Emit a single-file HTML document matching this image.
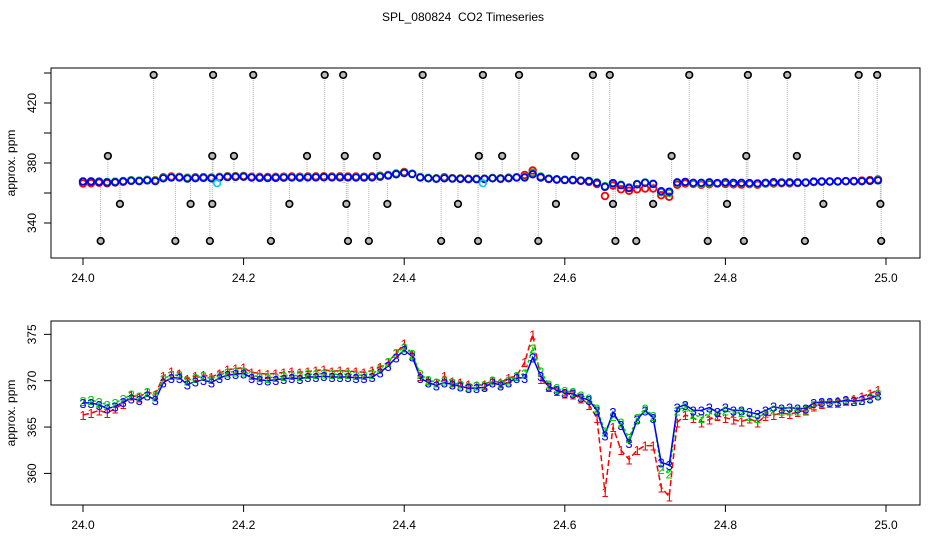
<!DOCTYPE html>
<html><head><meta charset="utf-8"><style>
html,body{margin:0;padding:0;background:#fff;}
svg{display:block;font-family:"Liberation Sans",sans-serif;}
</style></head><body>
<svg id="c" width="936" height="540" viewBox="0 0 936 540">
<text x="463" y="21" font-size="12" text-anchor="middle">SPL_080824&#160; CO2 Timeseries</text>
</svg>
<script>
const xTicks=[24.0,24.2,24.4,24.6,24.8,25.0];
const xTickLabels=["24.0","24.2","24.4","24.6","24.8","25.0"];
const topYTicks=[340,360,380,400,420,440];
const topYLabels=["340","","380","","420",""];
const botYTicks=[360,365,370,375];
const botYLabels=["360","365","370","375"];
const xStart=24.0, xStep=0.01;
const series1=[366.3,366.5,366.8,366.5,367.0,367.5,368.4,368.2,368.8,368.5,
370.5,371.0,370.8,370.2,370.5,370.6,370.4,370.8,371.2,371.3,
371.4,370.9,370.8,370.7,370.8,370.9,371.0,370.9,371.0,371.1,
371.2,371.0,371.1,371.0,371.0,370.9,371.1,371.5,372.0,373.0,
374.0,372.8,370.5,370.0,369.8,370.5,369.9,369.8,369.6,369.5,
369.6,370.0,369.8,370.3,370.5,372.0,375.0,370.2,369.3,368.9,
368.6,368.5,368.1,367.4,366.0,358.0,365.0,362.5,361.5,362.5,
363.0,363.0,358.5,357.5,365.5,366.3,366.0,365.5,365.8,366.2,
366.0,365.8,365.6,365.9,365.5,366.2,366.3,366.5,366.4,366.6,
366.8,367.2,367.5,367.6,367.8,367.9,368.0,368.3,368.6,369.0];
const series2=[367.8,367.9,367.7,367.4,367.6,368.0,368.5,368.3,368.8,368.3,
370.2,370.6,370.6,370.0,370.3,370.5,370.2,370.6,370.9,371.0,
371.0,370.6,370.4,370.3,370.4,370.5,370.6,370.5,370.7,370.7,
370.8,370.7,370.7,370.7,370.6,370.6,370.7,371.3,372.0,373.0,
373.6,372.9,370.7,370.1,369.8,370.0,369.8,369.6,369.4,369.5,
369.5,370.0,369.7,370.0,370.5,370.8,373.5,371.0,369.6,369.2,
368.9,368.8,368.4,368.1,367.0,364.5,366.2,365.5,363.8,366.0,
367.0,366.2,360.5,360.0,366.8,367.2,366.4,366.0,366.5,366.3,
366.8,366.5,366.6,366.2,366.0,366.5,366.9,366.8,366.8,366.8,
366.9,367.4,367.6,367.6,367.6,367.8,367.8,367.9,368.2,368.6];
const series3=[367.6,367.6,367.4,367.0,367.2,367.7,368.1,367.9,368.4,367.9,
369.8,370.3,370.3,369.6,369.9,370.1,369.8,370.3,370.6,370.7,
370.8,370.3,370.1,370.0,370.1,370.2,370.3,370.2,370.4,370.4,
370.5,370.4,370.4,370.4,370.3,370.3,370.4,370.9,371.6,372.5,
373.3,372.6,370.3,369.8,369.5,369.8,369.6,369.4,369.2,369.2,
369.3,369.8,369.5,369.8,370.3,370.3,372.5,370.5,369.4,369.0,
368.7,368.6,368.2,367.9,366.8,364.1,366.6,365.2,363.3,365.8,
366.8,366.0,361.2,360.9,367.1,367.4,366.8,366.8,367.1,366.6,
367.1,366.8,366.8,366.6,366.4,366.8,367.2,367.0,367.1,367.0,
367.0,367.6,367.7,367.7,367.7,367.9,367.8,367.9,368.1,368.4];
const outlierX=[24.088,24.162,24.212,24.301,24.324,24.423,24.498,24.543,24.635,24.656,24.755,24.828,24.877,24.966,24.989,
24.031,24.161,24.188,24.279,24.326,24.366,24.493,24.522,24.613,24.733,24.826,24.889,
24.046,24.134,24.161,24.257,24.328,24.379,24.467,24.589,24.660,24.710,24.802,24.922,24.993,
24.022,24.115,24.158,24.234,24.330,24.356,24.446,24.492,24.567,24.663,24.689,24.778,24.823,24.899,24.994];
const outlierY=[438.7,438.7,438.7,438.7,438.7,438.7,438.7,438.7,438.7,438.7,438.7,438.7,438.7,438.7,438.7,
384.7,384.7,384.7,384.7,384.7,384.7,384.7,384.7,384.7,384.7,384.7,384.7,
352.7,352.7,352.7,352.7,352.7,352.7,352.7,352.7,352.7,352.7,352.7,352.7,352.7,
328,328,328,328,328,328,328,328,328,328,328,328,328,328,328];
const cyanX=[24.167,24.498];
const cyanY=[366.5,366.5];
const baseLevel=366.6;

const NS="http://www.w3.org/2000/svg";
const svg=document.getElementById('c');
function mk(tag,attrs,parent){const e=document.createElementNS(NS,tag);for(const k in attrs)e.setAttribute(k,attrs[k]);(parent||svg).appendChild(e);return e;}
const X=v=>83+(v-24)*803;
const topY=v=>163-(v-380)*1.5;
const botY=v=>380.7-(v-370)*9.27;
const colors=["#ff0000","#00cd00","#0000ff"];
const allSeries=[series1,series2,series3];

function frame(y0,y1,yf,ticks,labels,name){
  const g=mk('g',{});
  
  
  const r=mk('rect',{x:51,y:y0,width:869,height:y1-y0,fill:'none',stroke:'#000','stroke-width':1},g);
  
  
  xTicks.forEach((t,i)=>{
    mk('line',{x1:X(t),x2:X(t),y1:y1,y2:y1+7,stroke:'#000'},g);
    const tx=mk('text',{x:X(t),y:y1+24,'font-size':12,'text-anchor':'middle'},g);
    tx.textContent=xTickLabels[i];
    
    
  });
  ticks.forEach((t,i)=>{
    const y=yf(t); if(y<y0-1||y>y1+1) return;
    mk('line',{x1:44,x2:51,y1:y,y2:y,stroke:'#000'},g);
    if(labels[i]){
      const tx=mk('text',{x:0,y:0,'font-size':12,'text-anchor':'middle',transform:`translate(36,${y}) rotate(-90)`},g);
      tx.textContent=labels[i];
      
      
    }
  });
  const yt=mk('text',{x:0,y:0,'font-size':12,'text-anchor':'middle',transform:`translate(15,${(y0+y1)/2}) rotate(-90)`},g);
  yt.textContent='approx. ppm';
  
  
}

frame(68,258,topY,topYTicks,topYLabels,'top');
const tg=mk('g',{});


outlierX.forEach((x,i)=>{
  const l=mk('line',{x1:X(x),x2:X(x),y1:topY(baseLevel),y2:topY(outlierY[i]),stroke:'#aaa','stroke-dasharray':'1,1'},tg);
  
  
});
allSeries.forEach((s,si)=>{
  s.forEach((v,i)=>{
    const c=mk('circle',{cx:X(xStart+i*xStep),cy:topY(v),r:3.3,fill:'none',stroke:colors[si],'stroke-width':1.8},tg);
    
    
  });
});
cyanX.forEach((x,i)=>{
  const c=mk('circle',{cx:X(x),cy:topY(cyanY[i]),r:3.3,fill:'none',stroke:'#00d0e0','stroke-width':1.6},tg);
  
  
});
outlierX.forEach((x,i)=>{
  const c=mk('circle',{cx:X(x),cy:topY(outlierY[i]),r:3.3,fill:'#bbb',stroke:'#000','stroke-width':1.6},tg);
  
  
});

frame(321,505,botY,botYTicks,botYLabels,'bottom');
const bg=mk('g',{});


allSeries.forEach((s,si)=>{
  const d=s.map((v,i)=>(i?'L':'M')+X(xStart+i*xStep).toFixed(1)+','+botY(v).toFixed(1)).join('');
  const p=mk('path',{d:d,fill:'none',stroke:colors[si],'stroke-width':1.5,'stroke-dasharray':si==0?'6,3':(si==1?'3,2':'none')},bg);
  
  
});
allSeries.forEach((s,si)=>{
  s.forEach((v,i)=>{
    const t=mk('text',{x:X(xStart+i*xStep),y:botY(v)+5,'font-size':13,'text-anchor':'middle',fill:colors[si]},bg);
    t.textContent=String(si+1);
    
    
  });
});
</script>
</body></html>
